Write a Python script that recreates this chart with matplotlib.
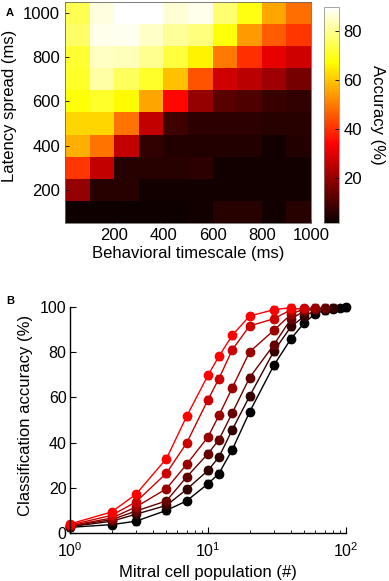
import numpy as np
import matplotlib
matplotlib.use('Agg')
import matplotlib.pyplot as plt

plt.rcParams['font.family'] = ['Liberation Sans', 'DejaVu Sans']
plt.rcParams['mathtext.fontset'] = 'custom'
plt.rcParams['mathtext.rm'] = 'Liberation Sans'
plt.rcParams['mathtext.it'] = 'Liberation Sans:italic'
plt.rcParams['font.size'] = 12

# ---- panel A: accuracy vs behavioral timescale / latency spread ----
timescale = [50, 150, 250, 350, 450, 550, 650, 750, 850, 950]
latency = [1000, 900, 800, 700, 600, 500, 400, 300, 200, 100]
accuracy = [
    [74.5, 87, 90, 90, 86, 88, 77.4, 69, 56, 48.3],
    [76.5, 88, 88.5, 85, 81, 78.3, 68, 54.3, 45.8, 41.2],
    [72, 84.5, 84, 80, 73, 66, 49.6, 40, 30.8, 27.5],
    [71, 82, 75.7, 71, 59.5, 45, 27.5, 25, 21, 16],
    [68, 71, 67, 55.5, 34.7, 20, 12, 10.6, 8, 6.7],
    [62, 62, 49, 26, 8.7, 6, 6, 6, 5.4, 5.4],
    [57, 49, 26, 6.7, 4.8, 4.8, 4.8, 4.8, 2.8, 4.8],
    [41, 26, 5.4, 5.4, 5.4, 6, 2.8, 2.8, 2.8, 2.8],
    [20, 5.4, 5.4, 2.8, 2.8, 2.8, 2.8, 2.8, 2.8, 2.8],
    [2.5, 2.5, 2.5, 2.5, 2.5, 2.8, 5.4, 5.4, 2.8, 5.4],
]

# ---- panel B: accuracy vs population size ----
population = [1, 2, 3, 5, 7, 10, 12, 15, 20, 30, 40, 50, 60, 70, 80, 90, 100]
acc_s1 = [4.0, 9.3, 17.1, 32.9, 51.6, 69.8, 78.2, 87.5, 96.0, 98.8, 99.7]
acc_s2 = [3.5, 7.8, 13.7, 26.5, 39.8, 59.0, 68.3, 81.1, 91.6, 94.8, 98.8, 99.6]
acc_s3 = [3.2, 6.6, 11.5, 19.6, 30.4, 42.5, 52.0, 64.3, 80.1, 89.7, 96.8, 99.3, 99.7]
acc_s4 = [3.0, 5.9, 9.7, 14.2, 24.8, 35.1, 41.3, 53.1, 68.7, 83.3, 94.8, 98.2, 99.3, 99.7]
acc_s5 = [2.8, 5.2, 8.3, 12.2, 19.3, 27.7, 33.6, 45.7, 60.5, 80.4, 91.4, 95.9, 98.5, 99.3, 99.7]
acc_s6 = [2.5, 3.7, 5.2, 10.0, 14.2, 21.8, 26.3, 36.9, 53.5, 74.2, 86.0, 93.1, 97.0, 98.5, 99.3, 99.6, 99.8]
sem = 1.5

series = [acc_s6, acc_s5, acc_s4, acc_s3, acc_s2, acc_s1]
colors = [(0, 0, 0), (0.2, 0, 0), (0.4, 0, 0), (0.6, 0, 0), (0.8, 0, 0), (1, 0, 0)]

W, H = 389, 581
fig = plt.figure(figsize=(W / 100, H / 100), dpi=100)

# panel A
axA = fig.add_axes([65 / W, 1 - 223 / H, 246 / W, 221 / H])
step_x = timescale[1] - timescale[0]
step_y = latency[0] - latency[1]
im = axA.imshow(np.array(accuracy), cmap='hot', vmin=1.5, vmax=90, aspect='auto',
                interpolation='nearest',
                extent=[timescale[0] - step_x / 2, timescale[-1] + step_x / 2,
                        latency[-1] - step_y / 2, latency[0] + step_y / 2])
axA.set_xticks([200, 400, 600, 800, 1000])
axA.set_yticks([200, 400, 600, 800, 1000])
axA.tick_params(direction='in', length=3, width=0.6, pad=3.5)
for s in axA.spines.values():
    s.set_linewidth(0.6)
    s.set_color('0.4')
axA.set_xlabel('Behavioral timescale (ms)')
axA.set_ylabel('Latency spread (ms)')
axA.xaxis.set_label_coords(0.5, -0.103)
axA.yaxis.set_label_coords(-0.197, 0.53)

cax = fig.add_axes([324 / W, 1 - 223 / H, 15 / W, 216 / H])
cb = fig.colorbar(im, cax=cax, ticks=[20, 40, 60, 80])
cb.outline.set_linewidth(0.5)
cb.outline.set_edgecolor('0.5')
cax.tick_params(direction='in', length=3, width=0.6, pad=3)
cb.set_label('Accuracy (%)', rotation=270, va='center')
cax.yaxis.set_label_coords(3.55, 0.5)

fig.text(10 / W, 1 - 13 / H, 'A', weight='bold', fontsize=8, ha='center', va='center')

# panel B
axB = fig.add_axes([70 / W, 1 - 533 / H, 276 / W, 226 / H])
for acc, c in zip(series, colors):
    axB.errorbar(population[:len(acc)], acc, yerr=sem, fmt='-o', color=c, ms=6, lw=1,
                 elinewidth=1, capsize=2, clip_on=False)
axB.set_xscale('log')
axB.set_xlim(1, 100)
axB.set_ylim(0, 100)
axB.set_yticks([0, 20, 40, 60, 80, 100])
axB.spines['top'].set_visible(False)
axB.spines['right'].set_visible(False)
for s in ['left', 'bottom']:
    axB.spines[s].set_linewidth(1)
axB.tick_params(which='major', direction='in', length=4, width=0.8, pad=2.5, labelsize=11.5)
axB.tick_params(axis='x', which='major', pad=6)
axB.tick_params(which='minor', direction='in', length=2, width=0.6)
axB.set_xlabel('Mitral cell population (#)')
axB.set_ylabel('Classification accuracy (%)')
axB.xaxis.set_label_coords(0.5, -0.14)
axB.yaxis.set_label_coords(-0.134, 0.522)

fig.text(10 / W, 1 - 301 / H, 'B', weight='bold', fontsize=8, ha='center', va='center')

fig.savefig('out.png', dpi=100)
